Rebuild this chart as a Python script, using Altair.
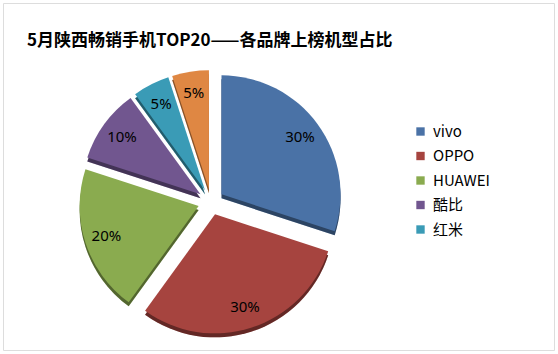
import altair as alt
import pandas as pd

brands = ["vivo", "OPPO", "HUAWEI", "酷比", "红米", "其他"]
shares = [30, 30, 20, 10, 5, 5]
colors = ["#4a72a6", "#a6443f", "#8aab4f", "#71568f", "#3a9bb6", "#df8743"]
title_text = "5月陕西畅销手机TOP20——各品牌上榜机型占比"

df = pd.DataFrame({"brand": brands, "share": shares, "idx": list(range(len(brands)))})

EXPLODE = 13
CX, CY = 208, 199
R = 119

base = alt.Chart(df).transform_joinaggregate(
    total="sum(share)"
).transform_window(
    cum="sum(share)", sort=[alt.SortField("idx")], frame=[None, 0]
).transform_calculate(
    mid=f"(datum.cum - datum.share/2) / datum.total * 2 * PI",
).transform_calculate(
    px=f"{CX} + {EXPLODE}*sin(datum.mid)",
    py=f"{CY} - {EXPLODE}*cos(datum.mid)",
    py2=f"{CY} + 4 - {EXPLODE}*cos(datum.mid)",
    lbl="datum.share + '%'",
)

color = alt.Color(
    "brand:N",
    scale=alt.Scale(domain=brands, range=colors),
    sort=brands,
    legend=alt.Legend(
        title=None,
        values=brands[:5],
        orient="none",
        legendX=410,
        legendY=121,
        symbolType="square",
        symbolSize=70,
        symbolStrokeWidth=0,
        labelFont="Noto Sans CJK SC",
        labelFontSize=15,
        labelColor="#000000",
        rowPadding=8.5,
        labelOffset=5,
    ),
)

theta = alt.Theta("share:Q", stack=True)
order = alt.Order("idx:Q", sort="ascending")

edge = base.mark_arc(radius=R).encode(
    theta=theta, order=order, color=color,
    x=alt.X("px:Q", scale=None), y=alt.Y("py2:Q", scale=None),
)
edge_dark = base.mark_arc(radius=R, color="black", opacity=0.4).encode(
    theta=theta, order=order,
    x=alt.X("px:Q", scale=None), y=alt.Y("py2:Q", scale=None),
)
pie = base.mark_arc(radius=R).encode(
    theta=theta, order=order, color=color,
    x=alt.X("px:Q", scale=None), y=alt.Y("py:Q", scale=None),
)
labels = base.mark_text(radius=97, font="Noto Sans", fontSize=15, color="#000000").encode(
    theta=theta, order=order, text="lbl:N",
    x=alt.X("px:Q", scale=None), y=alt.Y("py:Q", scale=None),
)

title = alt.Chart(pd.DataFrame({"t": [title_text]})).mark_text(
    align="left", baseline="alphabetic", font="Noto Sans CJK SC",
    fontSize=17, fontWeight="bold", color="#000000",
).encode(text="t:N", x=alt.value(24), y=alt.value(43))

chart = alt.layer(edge, edge_dark, pie, labels, title).properties(
    width=551, height=347,
    padding={"left": 3, "top": 3, "right": 4, "bottom": 4},
    autosize="none",
).configure_view(stroke="#c8c8c8", strokeWidth=2).configure(background="white")

chart.save("out.html", embed_options={"renderer": "svg", "actions": False})
